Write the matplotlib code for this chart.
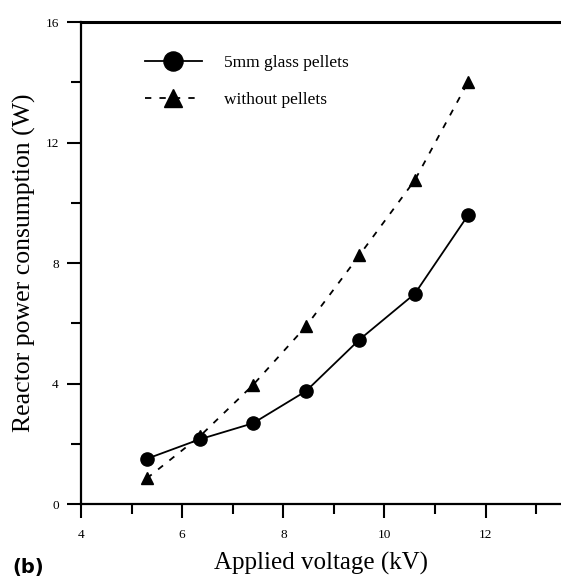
import matplotlib
matplotlib.use('Agg')
import matplotlib.pyplot as plt
from matplotlib.ticker import MultipleLocator

# data
voltage = [5.3, 6.35, 7.4, 8.45, 9.5, 10.6, 11.65]
power_pellets = [1.5, 2.15, 2.68, 3.75, 5.45, 6.98, 9.58]
power_no_pellets = [0.85, 2.25, 3.95, 5.9, 8.25, 10.75, 14.0]

plt.rcParams['font.family'] = ['Liberation Serif', 'DejaVu Serif']

fig = plt.figure(figsize=(5.61, 5.79), dpi=100)
ax = fig.add_axes([0.1444, 0.1295, 0.8556, 0.8325])

ax.plot(voltage, power_pellets, '-', color='black', lw=1.3,
        marker='o', ms=9.5, label='5mm glass pellets')
ax.plot(voltage, power_no_pellets, color='black', lw=1.3, dashes=(3.5, 4.5),
        marker='^', ms=8.5, label='without pellets')

ax.set_xlim(4, 13.49)
ax.set_ylim(0, 16)
ax.xaxis.set_major_locator(MultipleLocator(2))
ax.xaxis.set_minor_locator(MultipleLocator(1))
ax.yaxis.set_major_locator(MultipleLocator(4))
ax.yaxis.set_minor_locator(MultipleLocator(2))

ax.spines['right'].set_visible(False)
ax.spines['top'].set_linewidth(2.2)
ax.spines['left'].set_linewidth(1.6)
ax.spines['bottom'].set_linewidth(1.6)
ax.tick_params(which='major', direction='out', length=10, width=1.5, labelsize=9.5, pad=6)
ax.tick_params(which='minor', direction='out', length=7, width=1.5)
ax.tick_params(axis='x', which='major', pad=8)

ax.set_xlabel('Applied voltage (kV)', fontsize=18, labelpad=8)
ax.set_ylabel('Reactor power consumption (W)', fontsize=18.5, labelpad=7)

ax.legend(loc='upper left', bbox_to_anchor=(0.1, 0.965), frameon=False,
          fontsize=12.5, markerscale=1.45, handlelength=3.3, labelspacing=1.2,
          handletextpad=1.3)

fig.text(0.022, 0.01, '(b)', fontsize=14, fontweight='bold',
         family=['DejaVu Sans'])

fig.savefig('out.png', dpi=100)
